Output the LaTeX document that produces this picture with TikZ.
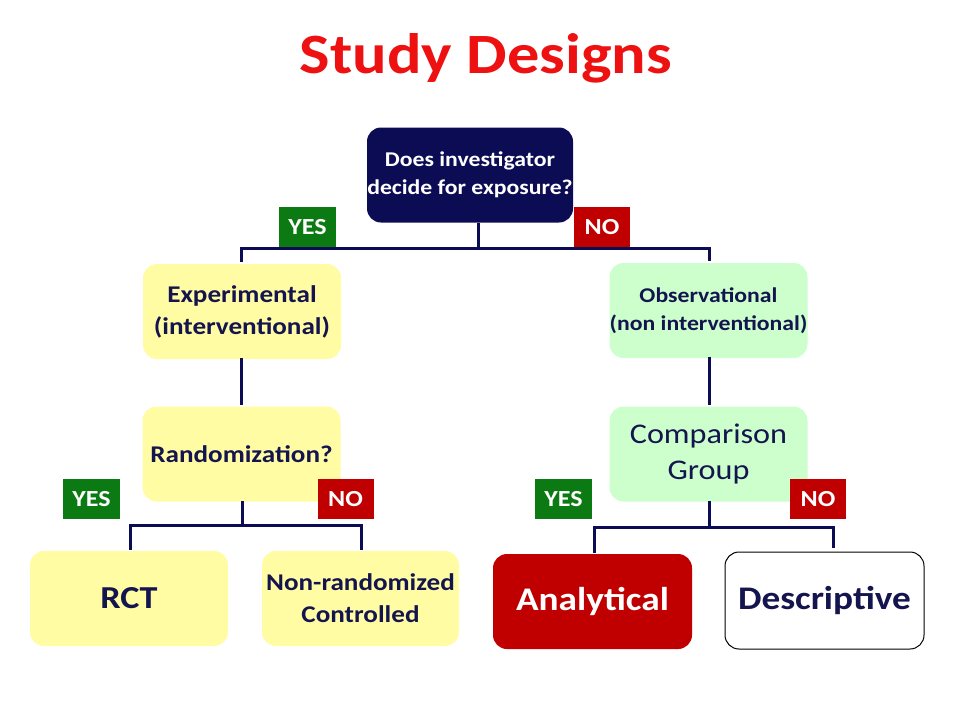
\documentclass[tikz,border=0pt]{standalone}
\usepackage{fontspec}
\setmainfont{Carlito}[FakeStretch=1.13]
\definecolor{navy}{HTML}{0C0C55}
\definecolor{txtnavy}{HTML}{14144E}
\definecolor{lyellow}{HTML}{FFFCA3}
\definecolor{lgreen}{HTML}{CCFFCC}
\definecolor{dred}{HTML}{C00000}
\definecolor{dgreen}{HTML}{0B7A12}
\definecolor{titlered}{HTML}{EE1111}
\tikzset{
  box/.style={rounded corners=14pt, minimum width=198pt, minimum height=95pt, align=center, inner sep=0pt, text=txtnavy, font=\bfseries},
  yesbox/.style={fill=dgreen, text=white, font=\bfseries\fontsize{23}{25}\selectfont, minimum width=57pt, minimum height=40pt, inner sep=0pt},
  nobox/.style={fill=dred, text=white, font=\bfseries\fontsize{23}{25}\selectfont, minimum width=56pt, minimum height=40pt, inner sep=0pt},
  conn/.style={draw=navy, line width=3pt},
}
\begin{document}
\begin{tikzpicture}[x=1pt,y=-1pt]
\useasboundingbox (0,0) rectangle (960,720);
\node[text=titlered, font=\bfseries\fontsize{57}{60}\selectfont] (title) at (486,58) {Study Designs};

\node[box, fill=navy, text=white, minimum width=206pt, font=\bfseries\fontsize{21}{28}\selectfont] (q) at (470,175) {Does investigator\\decide for exposure?};
\node[yesbox] (y1) at (307.5,227) {YES};
\node[nobox] (n1) at (602,227) {NO};

\node[box, fill=lyellow, font=\bfseries\fontsize{24}{32}\selectfont] (exp) at (242,311.5) {Experimental\\(interventional)};
\node[box, fill=lgreen, font=\bfseries\fontsize{21}{28}\selectfont] (obs) at (708.5,310.5) {Observational\\(non interventional)};

\node[box, fill=lyellow, font=\bfseries\fontsize{24}{26}\selectfont] (rand) at (241.5,454) {Randomization?};
\node[box, fill=lgreen, font=\mdseries\fontsize{28.5}{36}\selectfont] (comp) at (708.5,454) {Comparison\\Group};

\node[yesbox] (y2) at (91.5,499) {YES};
\node[nobox] (n2) at (345.5,499) {NO};
\node[yesbox] (y3) at (563.5,499) {YES};
\node[nobox] (n3) at (818,499) {NO};

\node[box, fill=lyellow, font=\bfseries\fontsize{32}{36}\selectfont] (rct) at (129,598.5) {RCT};
\node[box, fill=lyellow, minimum width=197pt, font=\bfseries\fontsize{24}{32}\selectfont] (nrc) at (360.5,598.5) {Non-randomized\\Controlled};
\node[box, fill=dred, text=white, minimum width=199pt, font=\bfseries\fontsize{33}{36}\selectfont] (ana) at (592.5,601.5) {Analytical};
\node[box, fill=white, draw=black, line width=1pt, minimum width=199pt, minimum height=97pt, font=\bfseries\fontsize{33}{36}\selectfont] (des) at (824.5,600.5) {Descriptive};

% connectors
\coordinate (j1) at (478,248);
\draw[conn] (478,223) -- (j1);
\draw[conn] (241,262) |- (709,248) -- (709,261);
\draw[conn] (241.5,358) -- (241.5,405);
\draw[conn] (709,357) -- (709,405);
\draw[conn] (242,501) -- (242,525);
\draw[conn] (130,550) |- (361,525) -- (361,550);
\draw[conn] (709,501) -- (709,527);
\draw[conn] (594,553) |- (833,527) -- (833,548);
\end{tikzpicture}
\end{document}
